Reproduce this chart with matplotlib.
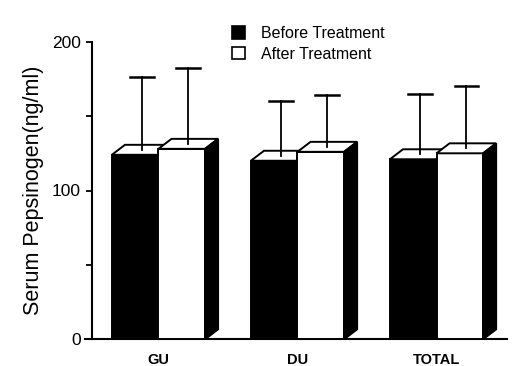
import matplotlib
matplotlib.use("Agg")
import matplotlib.pyplot as plt
from matplotlib.patches import Rectangle, Polygon, Patch

plt.rcParams["font.family"] = ["Liberation Sans", "DejaVu Sans"]

categories = ["GU", "DU", "TOTAL"]
before = [124, 120, 121]
after = [128, 126, 125]
before_sd = [52, 40, 44]
after_sd = [54, 38, 45]
series_labels = ["Before Treatment", "After Treatment"]

W = 0.335      # bar width (category spacing = 1)
DX = 0.094     # 3d depth, x
DY = 6.7       # 3d depth, y (data units)
CAP = 0.085    # half cap width
LW = 1.4


def bar3d(ax, x0, h, face, z):
    ax.add_patch(Rectangle((x0, 0), W, h, fc=face, ec="black", lw=LW, zorder=z))
    ax.add_patch(Polygon([(x0, h), (x0 + DX, h + DY), (x0 + W + DX, h + DY), (x0 + W, h)],
                         closed=True, fc="white", ec="black", lw=LW, zorder=z))
    ax.add_patch(Polygon([(x0 + W, 0), (x0 + W + DX, DY), (x0 + W + DX, h + DY), (x0 + W, h)],
                         closed=True, fc="black", ec="black", lw=LW, zorder=z))


def errbar(ax, x0, h, sd, z):
    xc = x0 + W / 2 + DX / 2
    ax.plot([xc, xc], [h + DY / 2, h + sd], color="black", lw=1.3, zorder=z)
    ax.plot([xc - CAP, xc + CAP], [h + sd, h + sd], color="black", lw=1.8, zorder=z)


fig = plt.figure(figsize=(5.25, 3.66), dpi=100)
ax = fig.add_axes([92 / 525, 1 - 339.3 / 366, (507 - 92) / 525, (339.3 - 41.7) / 366])
ax.set_xlim(-0.478, 2.507)
ax.set_ylim(0, 200)

for i in range(len(categories)):
    bar3d(ax, i - W, before[i], "black", 2)
    errbar(ax, i - W, before[i], before_sd[i], 2.5)
    bar3d(ax, i, after[i], "white", 3)
    errbar(ax, i, after[i], after_sd[i], 3.5)

for s in ("top", "right"):
    ax.spines[s].set_visible(False)
ax.spines["left"].set_linewidth(1.5)
ax.spines["bottom"].set_linewidth(1.5)
ax.plot([-0.53, -0.478], [0, 0], color="black", lw=1.5, clip_on=False)

ax.set_yticks([0, 100, 200])
ax.set_yticks([50, 150], minor=True)
ax.tick_params(axis="y", which="both", direction="out", length=4, width=1.3, labelsize=12.5, pad=4)
ax.set_xticks(range(len(categories)))
ax.set_xticklabels(categories, fontsize=10.5, fontweight="bold")
ax.tick_params(axis="x", length=0, pad=10)
ax.set_ylabel("Serum Pepsinogen(ng/ml)", fontsize=15.5, labelpad=6)

handles = [Patch(fc="black", ec="black", lw=1.2), Patch(fc="white", ec="black", lw=1.2)]
fig.legend(handles, series_labels, loc="upper left", bbox_to_anchor=(232 / 525, 1 - 26 / 366),
           frameon=False, fontsize=11.5, handlelength=0.8, handleheight=0.8,
           handletextpad=1.0, labelspacing=0.35, borderpad=0, borderaxespad=0)

fig.savefig("out.png", dpi=100)
